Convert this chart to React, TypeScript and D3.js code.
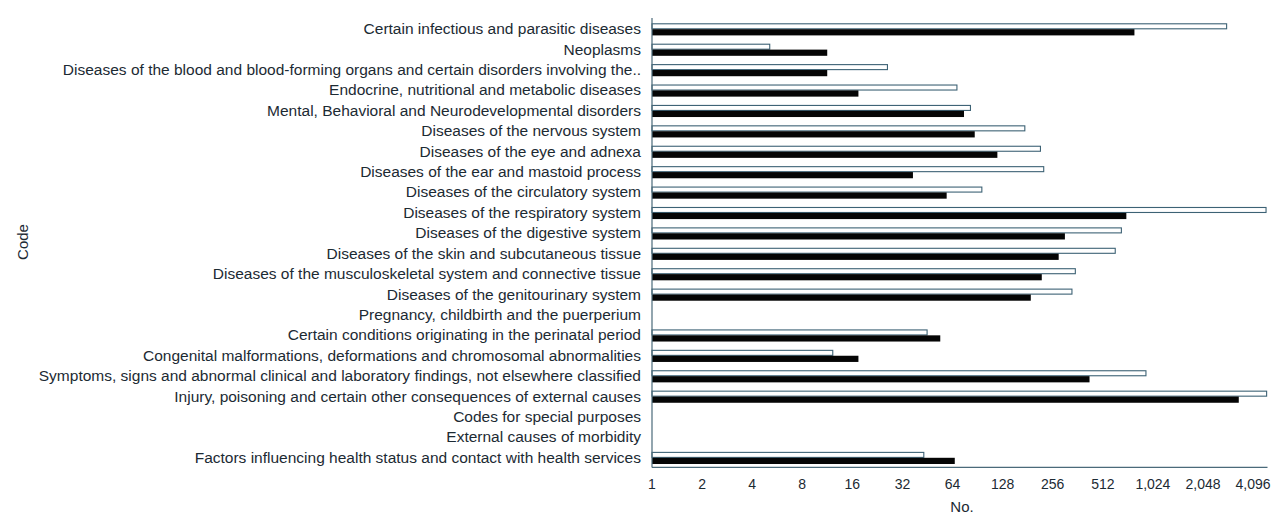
import React from "react";
import * as d3 from "d3";

const categories: string[] = [
  "Certain infectious and parasitic diseases",
  "Neoplasms",
  "Diseases of the blood and blood-forming organs and certain disorders involving the..",
  "Endocrine, nutritional and metabolic diseases",
  "Mental, Behavioral and Neurodevelopmental disorders",
  "Diseases of the nervous system",
  "Diseases of the eye and adnexa",
  "Diseases of the ear and mastoid process",
  "Diseases of the circulatory system",
  "Diseases of the respiratory system",
  "Diseases of the digestive system",
  "Diseases of the skin and subcutaneous tissue",
  "Diseases of the musculoskeletal system and connective tissue",
  "Diseases of the genitourinary system",
  "Pregnancy, childbirth and the puerperium",
  "Certain conditions originating in the perinatal period",
  "Congenital malformations, deformations and chromosomal abnormalities",
  "Symptoms, signs and abnormal clinical and laboratory findings, not elsewhere classified",
  "Injury, poisoning and certain other consequences of external causes",
  "Codes for special purposes",
  "External causes of morbidity",
  "Factors influencing health status and contact with health services",
];

// open (outlined) bars
const seriesOpen: (number | null)[] = [
  2840, 5.1, 26, 68, 82, 174, 216, 226, 96, 4900, 662, 608, 350, 334, null, 45, 12.2, 930, 4940, null, null, 43,
];
// filled black bars
const seriesFilled: (number | null)[] = [
  793, 11.3, 11.3, 17.4, 75, 87, 119, 37, 59, 709, 303, 278, 220, 189, null, 54, 17.4, 426, 3360, null, null, 66,
];

const tickValues: number[] = [1, 2, 4, 8, 16, 32, 64, 128, 256, 512, 1024, 2048, 4096];

const W = 1282;
const H = 517;
const FONT = "Arial, 'Liberation Sans', Helvetica, sans-serif";
const TEXT = "#1c2a33";
const AXIS = "#4a6a7a";

export default function App() {
  const x = d3.scaleLog().base(2).domain([1, 5000]).range([652, 1267.5]);
  const y = d3.scaleBand<string>().domain(categories).range([18, 467]).padding(0);
  const bw = y.bandwidth();
  const fmt = d3.format(",");

  return (
    <svg
      width={W}
      height={H}
      style={{ position: "absolute", left: 0, top: 0, background: "#fff" }}
      fontFamily={FONT}
    >
      {categories.map((c, i) => {
        const b = y(c)!;
        const vo = seriesOpen[i];
        const vf = seriesFilled[i];
        return (
          <g key={c}>
            <text
              x={641}
              y={b + bw / 2 + 0.5}
              textAnchor="end"
              dominantBaseline="central"
              fontSize={15.5}
              fill={TEXT}
            >
              {c}
            </text>
            {vo != null && (
              <rect
                x={x(1)}
                y={b + 5.8}
                width={x(vo) - x(1)}
                height={5}
                fill="#fff"
                stroke="#3d6275"
                strokeWidth={1.1}
              />
            )}
            {vf != null && (
              <rect
                x={x(1)}
                y={b + 11.2}
                width={x(vf) - x(1)}
                height={6.2}
                fill="#050505"
              />
            )}
          </g>
        );
      })}
      <line x1={x(1)} x2={x(1)} y1={18} y2={467.5} stroke={AXIS} strokeWidth={1.2} />
      <line x1={x(1)} x2={x(5000)} y1={467.3} y2={467.3} stroke={AXIS} strokeWidth={1.2} />
      {tickValues.map((t) => (
        <text
          key={t}
          x={x(t)}
          y={484}
          textAnchor="middle"
          dominantBaseline="central"
          fontSize={14}
          fill={TEXT}
        >
          {fmt(t)}
        </text>
      ))}
      <text x={962} y={506} textAnchor="middle" dominantBaseline="central" fontSize={15} fill={TEXT}>
        No.
      </text>
      <text
        transform="translate(22,242) rotate(-90)"
        textAnchor="middle"
        dominantBaseline="central"
        fontSize={15}
        fill={TEXT}
      >
        Code
      </text>
    </svg>
  );
}
